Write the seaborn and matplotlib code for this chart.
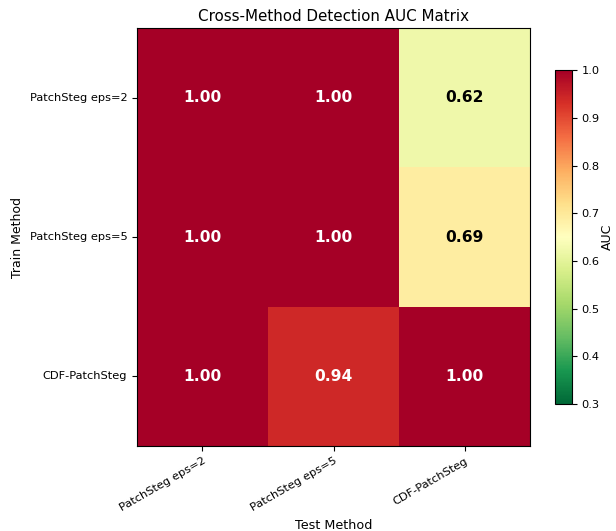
import matplotlib
matplotlib.use("Agg")
import matplotlib.pyplot as plt
import numpy as np
import pandas as pd
import seaborn as sns

train_methods = ["PatchSteg eps=2", "PatchSteg eps=5", "CDF-PatchSteg"]
test_methods = ["PatchSteg eps=2", "PatchSteg eps=5", "CDF-PatchSteg"]
auc_eps2 = [1.00, 1.00, 0.62]
auc_eps5 = [1.00, 1.00, 0.69]
auc_cdf = [1.00, 0.94, 1.00]
cbar_ticks = [0.3, 0.4, 0.5, 0.6, 0.7, 0.8, 0.9, 1.0]

df = pd.DataFrame([auc_eps2, auc_eps5, auc_cdf], index=train_methods, columns=test_methods)

fig = plt.figure(figsize=(6.16, 5.31), dpi=100)
ax = fig.add_axes([0.2224, 0.160, 0.638, 0.787])
cax = fig.add_axes([0.901, 0.239, 0.0276, 0.629])

sns.heatmap(df, ax=ax, cbar_ax=cax, cmap="RdYlGn_r", vmin=0.3, vmax=1.0,
            annot=True, fmt=".2f",
            annot_kws={"fontsize": 11.2, "fontweight": "bold"},
            cbar_kws={"ticks": cbar_ticks})

for texts, val in zip(ax.texts, df.values.flatten()):
    texts.set_color("white" if val > 0.8 else "black")

for s in ax.spines.values():
    s.set_visible(True)
    s.set_linewidth(0.8)
    s.set_color("black")
ax.tick_params(axis="both", which="major", length=3.5, width=0.8, labelsize=8.2)
ax.set_xticklabels(test_methods, rotation=30, ha="right", rotation_mode="anchor")
ax.set_yticklabels(train_methods, rotation=0)
ax.set_xlabel("Test Method", fontsize=9.2)
ax.set_ylabel("Train Method", fontsize=9)
ax.set_title("Cross-Method Detection AUC Matrix", fontsize=10.9, pad=5)

cb = ax.collections[0].colorbar
cb.outline.set_linewidth(0.8)
cb.outline.set_edgecolor("black")
cb.ax.tick_params(labelsize=8.2, length=3.5, width=0.8)
cb.set_label("AUC", fontsize=9, labelpad=1)

fig.savefig("out.png", dpi=100)
